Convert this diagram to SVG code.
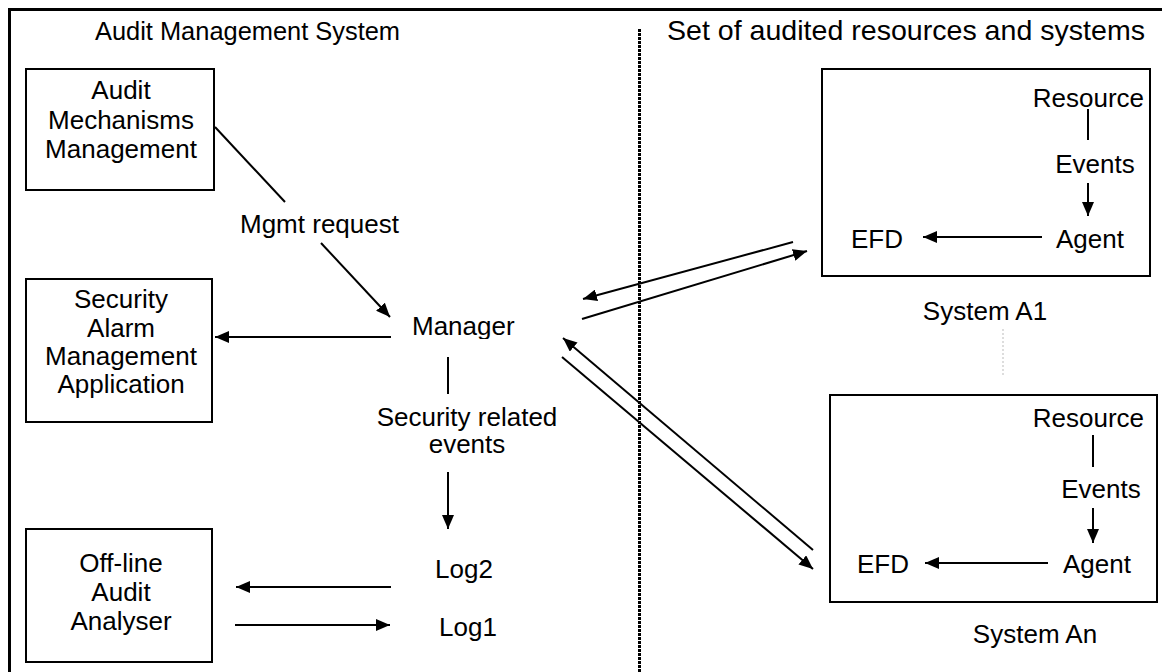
<svg xmlns="http://www.w3.org/2000/svg" width="1162" height="672" viewBox="0 0 1162 672">
<style>
text{font-family:"Liberation Sans",Arial,sans-serif;font-size:26px;fill:#000}
.box{fill:#fff;stroke:#000;stroke-width:2}
.c{text-anchor:middle}
.e{text-anchor:end}
.ln{stroke:#000;stroke-width:2;fill:none}
.ar{stroke:#000;stroke-width:2;fill:none;marker-end:url(#ah)}
</style>
<defs>
<marker id="ah" markerUnits="userSpaceOnUse" markerWidth="14" markerHeight="12" refX="14" refY="6" orient="auto">
<path d="M0,0 L14,6 L0,12 z" fill="#000"/>
</marker>
<clipPath id="mclip"><rect x="400" y="300" width="130" height="39"/></clipPath>
</defs>
<rect width="1162" height="672" fill="#fff"/>
<g id="frame">
<path d="M9.5,690 V9.5 H1170" fill="none" stroke="#000" stroke-width="3"/>
<line x1="639.5" y1="29" x2="639.5" y2="672" stroke="#000" stroke-width="3" stroke-dasharray="3 1"/>
<line x1="1003" y1="329" x2="1003" y2="376" stroke="#bbb" stroke-width="1" stroke-dasharray="2 2"/>
<text x="95" y="40" textLength="305" lengthAdjust="spacingAndGlyphs">Audit Management System</text>
<text x="667" y="40" style="font-size:28.5px" textLength="478" lengthAdjust="spacingAndGlyphs">Set of audited resources and systems</text>
</g>
<g id="audit-mechanisms-management">
<rect class="box" x="26" y="69" width="188" height="121"/>
<text class="c" x="121" y="99">Audit</text>
<text class="c" x="121" y="129">Mechanisms</text>
<text class="c" x="121" y="158">Management</text>
</g>
<g id="security-alarm-management-application">
<rect class="box" x="26" y="279" width="186" height="143"/>
<text class="c" x="121" y="308">Security</text>
<text class="c" x="121" y="337">Alarm</text>
<text class="c" x="121" y="365">Management</text>
<text class="c" x="121" y="393">Application</text>
</g>
<g id="offline-audit-analyser">
<rect class="box" x="26" y="529" width="186" height="133"/>
<text class="c" x="121" y="572">Off-line</text>
<text class="c" x="121" y="601">Audit</text>
<text class="c" x="121" y="630">Analyser</text>
</g>
<g id="manager">
<text x="412" y="335" clip-path="url(#mclip)">Manager</text>
</g>
<g id="mgmt-request"><text x="240" y="233">Mgmt request</text></g>
<g id="security-events">
<text class="c" x="467" y="426">Security related</text>
<text class="c" x="467" y="453">events</text>
</g>
<g id="log2"><text x="435" y="578">Log2</text></g>
<g id="log1"><text x="439" y="636">Log1</text></g>
<g id="system-a1">
<rect class="box" x="822" y="69" width="328" height="207"/>
<text class="e" x="1144" y="107">Resource</text>
<text class="c" x="1095" y="173">Events</text>
<text class="c" x="1090" y="248">Agent</text>
<text x="851" y="248">EFD</text>
<text class="c" x="985" y="320">System A1</text>
</g>
<g id="system-an">
<rect class="box" x="830" y="395" width="327" height="207"/>
<text class="e" x="1144" y="427">Resource</text>
<text class="c" x="1101" y="498">Events</text>
<text class="c" x="1097" y="573">Agent</text>
<text x="857" y="573">EFD</text>
<text class="c" x="1035" y="643">System An</text>
</g>
<g id="connectors">
<line class="ln" x1="215" y1="127" x2="285" y2="202"/>
<line class="ar" x1="321" y1="243" x2="390" y2="317"/>
<line class="ar" x1="391" y1="337" x2="215" y2="337"/>
<line class="ln" x1="448" y1="357" x2="448" y2="394"/>
<line class="ar" x1="448" y1="472" x2="448" y2="529"/>
<line class="ar" x1="391" y1="587" x2="236" y2="587"/>
<line class="ar" x1="235" y1="625" x2="390" y2="625"/>
<line class="ar" x1="793" y1="242" x2="583" y2="299"/>
<line class="ar" x1="582" y1="319" x2="807" y2="251"/>
<line class="ar" x1="813" y1="550" x2="563" y2="338"/>
<line class="ar" x1="562" y1="357" x2="813" y2="569"/>
<line class="ln" x1="1088" y1="109" x2="1088" y2="140"/>
<line class="ar" x1="1088" y1="183" x2="1088" y2="216"/>
<line class="ar" x1="1042" y1="237" x2="923" y2="237"/>
<line class="ln" x1="1093" y1="435" x2="1093" y2="467"/>
<line class="ar" x1="1093" y1="508" x2="1093" y2="543"/>
<line class="ar" x1="1048" y1="563" x2="925" y2="563"/>
</g>
</svg>
